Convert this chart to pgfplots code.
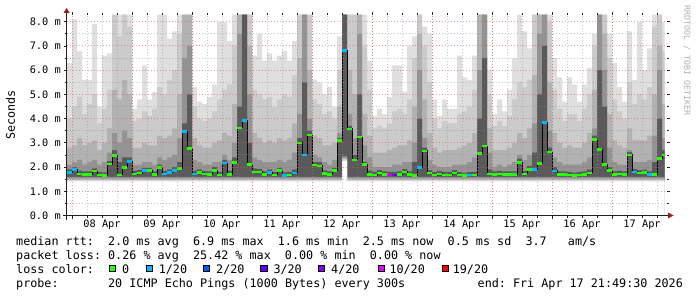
\documentclass[border=0pt]{standalone}
\usepackage{pgfplots}
\pgfplotsset{compat=1.18}
\usepackage{pgfplotstable}
\usepackage{fontspec}
\setmainfont{DejaVu Sans Mono}
\setmonofont{DejaVu Sans Mono}
\definecolor{sA}{HTML}{DFDFDF}
\definecolor{sB}{HTML}{CBCBCB}
\definecolor{sC}{HTML}{B2B2B2}
\definecolor{sD}{HTML}{939393}
\definecolor{sE}{HTML}{5A5A5A}
\definecolor{bA}{HTML}{8C8C8C}
\definecolor{bB}{HTML}{B5B5B5}
\definecolor{bC}{HTML}{D9D9D9}
\definecolor{lz}{HTML}{26FF00}
\definecolor{lone}{HTML}{00B8FF}
\definecolor{ltwo}{HTML}{0059FF}
\definecolor{lthree}{HTML}{5E00FF}
\definecolor{lfour}{HTML}{7E00FF}
\definecolor{lten}{HTML}{DD00FF}
\definecolor{lnineteen}{HTML}{FF0000}
\definecolor{mgrid}{HTML}{DE5151}
\definecolor{ngrid}{HTML}{8F8F8F}
\definecolor{arrowcol}{HTML}{9C1C1C}
\definecolor{axcol}{HTML}{202020}
\newcommand\legfont{\fontsize{11.75bp}{14bp}\selectfont\frenchspacing}
\newcommand\tickfont{\fontsize{10.3bp}{12bp}\selectfont\frenchspacing}

% x = hours since 08 Apr 00:00, columns of 2 h; L1..L5 = tops of smoke shades, med = median rtt (ms), loss = lost pings of 20
\pgfplotstableread{
x L1 L2 L3 L4 L5 med loss
-2 6.3 4.0 2.8 2.1 1.9 1.78 1
0 8.1 4.5 2.9 2.2 2.0 1.90 1
2 6.8 4.9 3.2 2.3 1.85 1.71 0
4 5.6 4.2 2.9 2.1 1.82 1.70 0
6 5.6 4.6 3.0 2.2 1.82 1.70 0
8 7.9 5.0 3.1 2.3 1.95 1.83 0
10 4.5 3.8 2.7 2.1 1.80 1.68 0
12 6.6 4.4 3.0 2.2 1.78 1.65 0
14 6.7 5.2 3.6 2.6 2.25 2.12 0
16 8.3 8.3 5.2 3.4 2.7 2.49 0
18 8.3 7.4 4.8 3.0 2.2 1.68 0
20 8.3 8.3 5.6 3.5 2.4 1.98 0
22 8.3 7.8 5.0 3.2 2.4 2.24 1
24 4.4 3.9 2.8 2.1 1.85 1.71 0
26 4.8 4.0 2.8 2.1 1.88 1.75 0
28 6.2 4.3 3.0 2.2 1.97 1.85 1
30 4.8 4.1 2.9 2.2 1.97 1.85 0
32 5.1 4.4 2.9 2.1 1.82 1.70 0
34 8.3 5.3 3.3 2.4 2.1 1.98 0
36 8.3 5.0 3.2 2.3 1.85 1.72 1
38 7.3 5.6 3.3 2.4 1.9 1.78 1
40 7.6 6.0 3.6 2.5 2.0 1.85 1
42 8.3 7.5 5.0 3.2 2.2 1.93 0
44 8.3 8.3 8.3 6.5 3.8 3.46 1
46 8.3 8.3 8.3 7.0 5.0 2.76 0
48 5.3 4.5 3.2 2.3 1.85 1.72 1
50 4.7 4.0 2.9 2.2 1.9 1.78 0
52 4.6 3.9 2.8 2.1 1.83 1.71 0
54 4.9 4.0 2.8 2.1 1.82 1.70 0
56 5.4 4.3 3.0 2.2 2.0 1.87 0
58 8.0 4.8 3.1 2.2 1.8 1.68 0
60 8.0 5.2 3.4 2.5 2.3 2.16 1
62 7.2 5.4 3.3 2.3 1.85 1.70 0
64 8.3 7.0 4.6 3.0 2.4 2.20 0
66 8.3 8.3 8.3 7.5 4.5 3.62 0
68 8.3 8.3 8.3 8.3 8.3 3.93 1
70 8.3 8.3 7.0 5.0 3.0 2.10 0
72 6.6 5.2 3.4 2.4 1.95 1.80 0
74 7.5 5.0 3.2 2.3 1.92 1.80 0
76 6.4 4.8 3.0 2.2 1.82 1.70 0
78 6.7 4.9 3.1 2.2 1.9 1.78 1
80 6.4 4.5 3.0 2.2 1.8 1.68 0
82 6.6 4.8 3.2 2.3 1.97 1.85 0
84 6.8 5.0 3.1 2.2 1.78 1.66 1
86 6.4 4.9 3.2 2.3 1.8 1.68 0
88 7.2 5.8 3.8 2.6 1.9 1.75 1
90 8.3 8.3 6.5 4.2 3.2 3.00 0
92 8.3 8.3 8.3 8.3 5.5 2.50 1
94 8.3 8.3 6.0 4.0 3.5 3.32 0
96 5.6 4.8 3.3 2.5 2.2 2.08 0
98 5.5 4.6 3.2 2.4 2.2 2.05 0
100 5.0 4.2 2.9 2.2 1.86 1.74 0
102 5.3 4.3 2.9 2.1 1.82 1.70 0
104 4.5 4.0 3.0 2.3 1.97 1.85 0
106 7.4 6.0 4.5 3.4 3.2 3.10 0
108 8.3 8.3 8.3 8.3 8.3 6.81 1
110 8.3 8.3 6.0 4.2 3.7 3.58 0
112 8.3 8.3 5.0 3.2 2.5 2.30 0
114 8.3 8.3 8.3 7.5 5.0 3.24 0
116 8.3 7.0 4.2 2.9 2.2 2.10 0
118 6.4 5.2 3.3 2.4 1.85 1.70 0
120 4.1 3.6 2.6 2.0 1.8 1.67 0
122 4.4 3.7 2.6 2.0 1.87 1.75 0
124 4.2 3.6 2.6 2.0 1.82 1.70 0
126 4.9 3.8 2.7 2.0 1.8 1.68 10
128 6.2 4.3 2.8 2.1 1.8 1.68 3
130 6.2 4.4 2.9 2.1 1.82 1.70 0
132 5.1 4.2 2.9 2.2 1.92 1.80 0
134 7.0 4.8 3.1 2.2 1.82 1.70 0
136 7.4 6.5 4.5 3.0 2.2 1.66 0
138 8.3 8.3 7.5 6.0 4.0 1.98 1
140 7.8 7.0 4.8 3.2 2.8 2.67 0
142 7.5 5.5 3.4 2.3 1.87 1.75 0
144 4.8 4.0 2.8 2.1 1.79 1.67 0
146 4.1 3.6 2.6 2.0 1.84 1.72 0
148 4.8 3.9 2.7 2.0 1.8 1.68 0
150 4.4 3.8 2.7 2.0 1.8 1.68 0
152 4.4 3.8 2.7 2.1 1.87 1.75 0
154 6.6 4.2 2.8 2.1 1.79 1.67 0
156 5.7 4.3 2.9 2.1 1.76 1.64 0
158 5.6 4.5 3.0 2.2 1.79 1.67 1
160 6.6 5.2 3.4 2.4 1.8 1.67 0
162 8.3 8.3 8.3 6.0 4.0 2.57 0
164 8.3 8.3 8.3 8.3 6.5 2.87 0
166 6.0 5.0 3.6 2.6 1.9 1.71 0
168 4.2 3.7 2.7 2.0 1.82 1.70 0
170 4.8 3.9 2.7 2.1 1.84 1.72 0
172 4.3 3.7 2.7 2.0 1.82 1.70 0
174 5.2 4.1 2.8 2.1 1.82 1.70 0
176 6.5 4.8 3.0 2.2 1.82 1.70 0
178 8.3 5.5 3.4 2.5 2.35 2.20 0
180 7.6 5.3 3.2 2.3 1.84 1.72 0
182 6.9 5.6 3.6 2.5 2.05 1.90 0
184 8.3 8.3 5.8 3.8 2.6 1.90 1
186 8.3 8.3 8.3 7.5 5.0 2.15 0
188 8.3 8.3 8.3 8.3 7.0 3.84 1
190 8.3 8.0 5.5 3.5 2.8 2.62 0
192 6.5 5.2 3.4 2.4 2.0 1.84 1
194 5.7 4.4 3.0 2.2 1.82 1.70 0
196 4.7 3.9 2.8 2.1 1.82 1.70 0
198 5.7 4.2 2.9 2.1 1.8 1.68 0
200 5.4 4.2 2.8 2.1 1.77 1.65 0
202 4.7 3.9 2.8 2.1 1.8 1.68 0
204 5.4 4.4 3.0 2.2 1.82 1.70 0
206 6.1 5.0 3.4 2.4 1.9 1.76 0
208 7.5 7.0 5.2 3.6 3.3 3.15 0
210 8.3 8.3 8.3 8.3 6.0 2.73 0
212 8.3 8.3 7.5 6.0 4.5 2.10 0
214 7.5 6.5 4.2 2.8 2.0 1.85 0
216 6.3 4.8 3.1 2.2 1.82 1.70 0
218 5.3 4.3 2.9 2.1 1.84 1.72 0
220 4.7 4.0 2.8 2.1 1.82 1.70 0
222 7.6 5.5 3.6 2.7 2.62 2.50 0
224 5.6 4.6 3.1 2.2 1.92 1.80 1
226 8.0 5.0 3.1 2.2 1.87 1.75 0
228 6.0 4.8 3.1 2.2 1.89 1.77 0
230 6.9 5.3 3.3 2.3 1.82 1.70 1
232 8.3 7.8 5.0 3.3 2.2 1.70 0
234 8.3 8.3 7.0 6.0 4.0 2.35 0
236 8.0 6.8 4.6 3.2 2.7 2.50 0
237 8.0 6.8 4.6 3.2 2.7 2.50 0
}\smoke

\begin{document}
\begin{tikzpicture}[x=1bp,y=1bp]
\path (0,0) rectangle (697,297);
\begin{axis}[
  at={(66.6bp,81.5bp)}, anchor=south west,
  scale only axis, width=600bp, height=200.5bp,
  xmin=-2.175, xmax=237.825, ymin=0, ymax=8.28,
  axis on top,
  axis line style={draw=none},
  xtick={0,24,...,216}, xticklabels={},
  minor xtick={6,12,...,234},
  extra x ticks={12,36,...,228},
  extra x tick labels={08 Apr,09 Apr,10 Apr,11 Apr,12 Apr,13 Apr,14 Apr,15 Apr,16 Apr,17 Apr},
  extra x tick style={grid=none, major tick length=0pt, xticklabel style={yshift=-4.5bp}},
  ytick={0,1,...,8},
  yticklabels={0.0 m,1.0 m,2.0 m,3.0 m,4.0 m,5.0 m,6.0 m,7.0 m,8.0 m},
  minor ytick={0.5,1.5,...,7.5},
  grid=both,
  major grid style={draw=mgrid, opacity=0.55, line width=1bp, dash pattern=on 1bp off 2bp},
  minor grid style={draw=ngrid, opacity=0.5, line width=1bp, dash pattern=on 1bp off 2bp},
  tick style={axcol, line width=0.8bp},
  tick align=outside,
  major tick length=3bp, minor tick length=2bp,
  tick label style={font=\tickfont, inner sep=0pt, text=black},
  xticklabel style={anchor=north},
  yticklabel style={anchor=east, xshift=-2.6bp},
  /pgf/number format/assume math mode=true,
]
\addplot[fill=sA, draw=none, const plot] table[x=x, y=L1] {\smoke} \closedcycle;
\addplot[fill=sB, draw=none, const plot] table[x=x, y=L2] {\smoke} \closedcycle;
\addplot[fill=sC, draw=none, const plot] table[x=x, y=L3] {\smoke} \closedcycle;
\addplot[fill=sD, draw=none, const plot] table[x=x, y=L4] {\smoke} \closedcycle;
\addplot[fill=sE, draw=none, const plot] table[x=x, y=L5] {\smoke} \closedcycle;
\addplot[fill=bA, draw=none, const plot] coordinates {(-2.2,1.60) (108,2.45) (110,1.60) (237,1.60)} \closedcycle;
\addplot[fill=bB, draw=none, const plot] coordinates {(-2.2,1.53) (108,2.38) (110,1.53) (237,1.53)} \closedcycle;
\addplot[fill=bC, draw=none, const plot] coordinates {(-2.2,1.47) (108,2.32) (110,1.47) (237,1.47)} \closedcycle;
\addplot[fill=white, draw=none, const plot] coordinates {(-2.2,1.41) (108,2.25) (110,1.41) (237,1.41)} \closedcycle;
\addplot[black, line width=1bp, const plot] table[x=x, y=med] {\smoke};
\addplot[lz, line width=2.6bp, jump mark left] table[x=x, y=med] {\smoke};
\addplot[only marks, mark=-, mark size=2.5bp, mark options={lone, line width=2.6bp, xshift=2.5bp},
  restrict expr to domain={\thisrow{loss}}{0.5:1.5}] table[x=x, y=med] {\smoke};
\addplot[only marks, mark=-, mark size=2.5bp, mark options={lthree, line width=2.6bp, xshift=2.5bp},
  restrict expr to domain={\thisrow{loss}}{2.5:3.5}] table[x=x, y=med] {\smoke};
\addplot[only marks, mark=-, mark size=2.5bp, mark options={lten, line width=2.6bp, xshift=2.5bp},
  restrict expr to domain={\thisrow{loss}}{9.5:10.5}] table[x=x, y=med] {\smoke};
\end{axis}
% axis lines with arrows
\draw[axcol, line width=1bp] (62.5,81.5) -- (668.5,81.5);
\fill[arrowcol] (668,84.5) -- (673.5,81.5) -- (668,78.5) -- cycle;
\draw[axcol, line width=1bp] (66.6,77.5) -- (66.6,284.5);
\fill[arrowcol] (63.6,284.2) -- (66.6,289) -- (69.6,284.2) -- cycle;
% axis title and watermark
\node[rotate=90, font=\legfont, inner sep=0pt] at (10.5,182) {Seconds};
\node[rotate=-90, anchor=west, inner sep=0pt, text={rgb,255:red,176;green,176;blue,176},
  font=\fontsize{8.3bp}{10bp}\selectfont] at (687,292) {RRDTOOL / TOBI OETIKER};
% legend text
\node[anchor=base west, inner sep=0pt, font=\legfont] at (16,52) {median rtt:~~2.0 ms avg~~6.9 ms max~~1.6 ms min~~2.5 ms now~~0.5 ms sd~~3.7~~~am/s};
\node[anchor=base west, inner sep=0pt, font=\legfont] at (16,38) {packet loss:~0.26 \% avg~~25.42 \% max~~0.00 \% min~~0.00 \% now};
\node[anchor=base west, inner sep=0pt, font=\legfont] at (16,23.7) {loss color:};
\foreach \sx/\col/\tx/\lab in {109/lz/122/0, 146/lone/158.6/1\slash 20, 203.3/ltwo/216/2\slash 20, 260.7/lthree/273.3/3\slash 20, 318.3/lfour/331/4\slash 20, 378.3/lten/389.3/10\slash 20, 442.3/lnineteen/452.6/19\slash 20}{
  \filldraw[fill=\col, draw=black, line width=0.8bp] (\sx,25.5) rectangle ++(6.2,6.2);
  \node[anchor=base west, inner sep=0pt, font=\legfont] at (\tx,23.7) {\lab};
}
\node[anchor=base west, inner sep=0pt, font=\legfont] at (16,10) {probe:~~~~~~~20 ICMP Echo Pings (1000 Bytes) every 300s};
\node[anchor=base west, inner sep=0pt, font=\legfont] at (477.5,10) {end: Fri Apr 17 21:49:30 2026};
\end{tikzpicture}
\end{document}
